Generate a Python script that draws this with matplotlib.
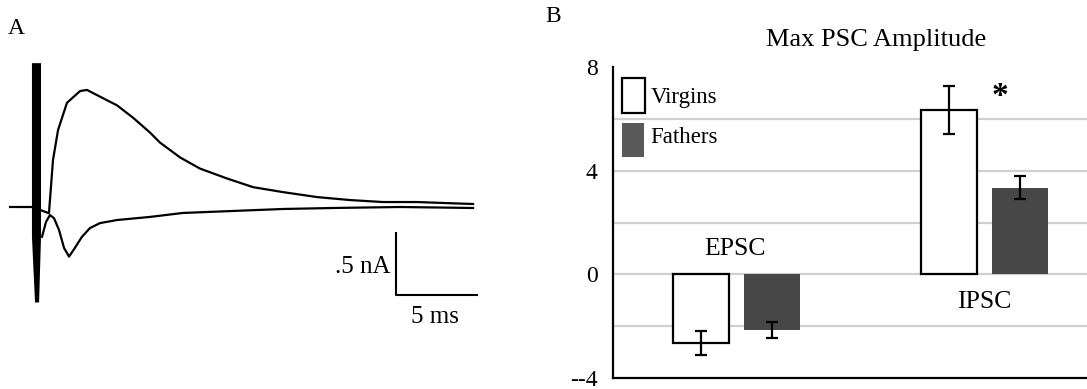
import matplotlib
matplotlib.use("Agg")
import matplotlib.pyplot as plt
from matplotlib.patches import Rectangle

plt.rcParams['font.family'] = ['Liberation Serif', 'DejaVu Serif']

# ---------------- Panel A data (time in ms, current in nA) ----------------
ipsc_t = [-1.60, -0.25, 0.80, 1.05, 1.36, 1.91, 2.72, 3.15, 3.95, 5.00, 5.99, 7.04,
          7.65, 8.89, 10.12, 11.79, 13.40, 15.25, 17.35, 19.38, 21.42, 23.52, 26.98]
ipsc_i = [0.0, 0.0, -0.05, 0.38, 0.62, 0.84, 0.935, 0.944, 0.89, 0.82, 0.72, 0.60,
          0.52, 0.40, 0.31, 0.23, 0.16, 0.12, 0.08, 0.056, 0.04, 0.04, 0.024]
epsc_t = [0.37, 0.62, 0.86, 1.11, 1.42, 1.73, 2.04, 2.35, 2.84, 3.33, 3.95, 5.00,
          7.04, 9.07, 12.16, 15.25, 18.33, 22.47, 26.98]
epsc_i = [-0.24, -0.12, -0.065, -0.09, -0.185, -0.33, -0.40, -0.34, -0.24, -0.17, -0.13, -0.105,
          -0.08, -0.048, -0.032, -0.016, -0.008, 0.0, -0.008]
artifact_t = [-0.25, 0.31, 0.31, 0.19, -0.06, -0.25]
artifact_i = [1.16, 1.16, -0.24, -0.77, -0.77, -0.24]
scale_ms = 5.0
scale_na = 0.5

# ---------------- Panel B data ----------------
categories = ['EPSC', 'IPSC']
series = ['Virgins', 'Fathers']
virgins = [-2.65, 6.35]
virgins_err = [0.46, 0.92]
fathers = [-2.15, 3.35]
fathers_err = [0.31, 0.45]
ytick_vals = [8, 4, 0, -4]
ytick_labels = ['8', '4', '0', '--4']
grid_vals = [-2, 0, 2, 4, 6]

W, H = 1087, 389
fig = plt.figure(figsize=(W / 100, H / 100), dpi=100)

# ---------------- Panel A ----------------
axA = fig.add_axes([0, 0, 500 / W, 1])
axA.set_xlim(-36 / 16.2, (500 - 36) / 16.2)
axA.set_ylim((207 - 389) / 124, 207 / 124)
axA.axis('off')
axA.plot(ipsc_t, ipsc_i, color='black', lw=1.6)
axA.plot(epsc_t, epsc_i, color='black', lw=1.6)
axA.fill(artifact_t, artifact_i, color='black', lw=0)
sx, sy = 22.2, -0.71
axA.plot([sx, sx, sx + scale_ms], [sy + scale_na, sy, sy], color='black', lw=1.5)
axA.text(sx - 0.3, sy + scale_na * 0.46, '.5 nA', ha='right', va='center', fontsize=18)
axA.text(sx + scale_ms / 2 - 0.1, sy - 0.18, '5 ms', ha='center', va='center', fontsize=18)

fig.text(16 / W, 1 - 29 / H, 'A', ha='center', va='center', fontsize=17)
fig.text(553 / W, 1 - 17 / H, 'B', ha='center', va='center', fontsize=17)

# ---------------- Panel B ----------------
left = 613 / W
axB = fig.add_axes([left, (H - 378) / H, 1 - left, (378 - 67) / H])
axB.set_ylim(-4, 8)
axB.set_xlim(-0.5, -0.5 + (W - 613) / 247.5)
for g in grid_vals:
    axB.axhline(g, color='#cfcfcf', lw=1.6, zorder=0)
x = range(len(categories))
bw = 0.226
off = 0.143
xv = [i - off for i in x]
xf = [i + off for i in x]
axB.bar(xv, virgins, width=bw, facecolor='white', edgecolor='black', lw=1.6, zorder=2)
axB.bar(xf, fathers, width=bw, facecolor='#474747', edgecolor='#474747', lw=0, zorder=2)
axB.errorbar(xv, virgins, yerr=virgins_err, fmt='none', ecolor='black', elinewidth=1.6,
             capsize=4, capthick=1.6, zorder=3)
axB.errorbar(xf, fathers, yerr=fathers_err, fmt='none', ecolor='black', elinewidth=1.6,
             capsize=4, capthick=1.6, zorder=3)
for s in ['top', 'right']:
    axB.spines[s].set_visible(False)
for s in ['left', 'bottom']:
    axB.spines[s].set_linewidth(1.6)
    axB.spines[s].set_color('black')
axB.set_xticks([])
axB.set_yticks(ytick_vals)
axB.set_yticklabels(ytick_labels, fontsize=17)
axB.tick_params(axis='y', length=0, pad=11)

axB.text(-0.005, 0.96, categories[0], ha='center', va='center', fontsize=18.5)
axB.text(1.0, -1.08, categories[1], ha='center', va='center', fontsize=18.5)
axB.text(1.064, 6.85, '*', ha='center', va='center', fontsize=24, fontweight='bold')

fig.text(876 / W, 1 - 40 / H, 'Max PSC Amplitude', ha='center', va='center', fontsize=19)

# legend (manual)
fig.add_artist(Rectangle((622 / W, 1 - 113 / H), 23 / W, 35 / H, transform=fig.transFigure,
                         facecolor='white', edgecolor='black', lw=1.6))
fig.add_artist(Rectangle((622 / W, 1 - 157 / H), 22 / W, 34 / H, transform=fig.transFigure,
                         facecolor='#595959', edgecolor='none'))
fig.text(651 / W, 1 - 98 / H, series[0], ha='left', va='center', fontsize=16.5)
fig.text(650 / W, 1 - 138 / H, series[1], ha='left', va='center', fontsize=16.5)

fig.savefig('out.png', dpi=100)
